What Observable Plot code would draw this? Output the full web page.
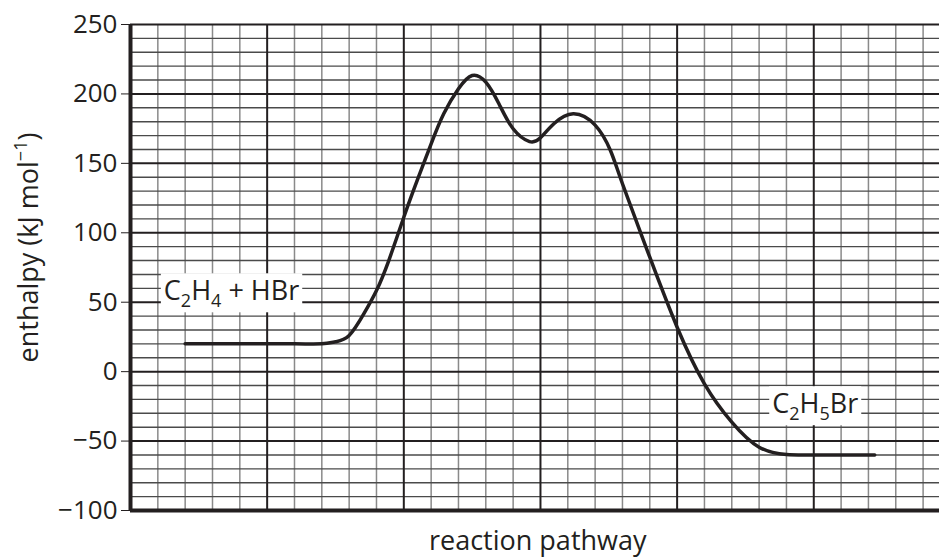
<!DOCTYPE html>
<html><head><meta charset="utf-8">
<script src="https://cdn.jsdelivr.net/npm/d3@7"></script>
<script src="https://cdn.jsdelivr.net/npm/@observablehq/plot@0.6"></script>
<style>
body{margin:0;background:#fff;}
</style></head><body><div id="chart"></div>
<script>
// reaction pathway position (in grid cells) and enthalpy (kJ/mol)
const pathway  = [2.0, 4.0, 6.0, 7.0, 7.5, 8.0, 8.54, 9.0, 9.45, 10.0, 10.49, 11.0, 11.46, 12.0, 12.5, 13.0, 13.48, 14.0, 14.6, 15.0, 15.49, 16.2, 17.0, 17.56, 18.0, 19.0, 20.0, 21.0, 22.0, 23.0, 24.0, 25.0, 27.23];
const enthalpy = [20,  20,  20,  20,  21.5, 26,  41.7, 58.4, 80,  111.2, 137.7, 164.1, 185.7, 203.7, 213.3, 208.5, 192.9, 174.9, 165.7, 168.4, 178.5, 185.7, 177.5, 159.3, 135.3, 82.4, 32, -8.8, -36.4, -54.4, -59.7, -60, -60];
const yTicks = [-100, -50, 0, 50, 100, 150, 200, 250];
const labelText = ["C2H4 + HBr", "C2H5Br"];
const labelX = [1.22, 23.48];
const labelY = [57.6, -23.7];
const xLabel = "reaction pathway";
const yLabel = "enthalpy (kJ mol-1)";

const W = 939, H = 558;
const xMax = 29.6;
const ink = "#231f20";
const minorY = d3.range(-100, 251, 10);
const minorX = d3.range(0, 30, 1);
const curveData = pathway.map((x, i) => ({x, y: enthalpy[i]}));
const labelData = labelText.map((t, i) => ({t, x: labelX[i], y: labelY[i]}));

const chart = Plot.plot({
  width: W, height: H,
  marginLeft: 130, marginRight: 0, marginTop: 24, marginBottom: 48,
  style: {fontFamily: "'Open Sans', sans-serif", fontSize: "26px", color: ink, background: "#fff"},
  x: {domain: [0, xMax], axis: null},
  y: {domain: [-100, 250], axis: null},
  marks: [
    Plot.ruleX(minorX.filter(d => d % 5 !== 0), {stroke: "#8a8a8a", strokeWidth: 1.5}),
    Plot.ruleY(minorY.filter(d => d % 50 !== 0), {stroke: "#4a4a4a", strokeWidth: 1.4}),
    Plot.ruleX(minorX.filter(d => d % 5 === 0 && d > 0), {stroke: ink, strokeWidth: 2}),
    Plot.ruleY(yTicks, {stroke: ink, strokeWidth: 2}),
    Plot.line(curveData, {x: "x", y: "y", curve: d3.curveNatural, stroke: ink, strokeWidth: 3.5}),
    Plot.text(labelData, {x: "x", y: "y", text: "t", textAnchor: "start", lineAnchor: "middle", fill: ink, fontSize: 27}),
    Plot.ruleX([0], {stroke: ink, strokeWidth: 4}),
    Plot.ruleY([-100], {stroke: ink, strokeWidth: 4}),
    Plot.axisY(yTicks, {tickSize: 9, tickPadding: 4, fontSize: 26, label: null, stroke: ink, fill: ink}),
    Plot.text([xLabel], {x: () => 14.9, frameAnchor: "bottom", dy: 31, textAnchor: "middle", lineAnchor: "middle", fontSize: 27, fill: ink}),
    Plot.text([yLabel], {y: () => 89.4, frameAnchor: "left", dx: -101.5, rotate: -90, textAnchor: "middle", lineAnchor: "middle", fontSize: 27, fill: ink})
  ]
});
document.getElementById("chart").appendChild(chart);

const NS = "http://www.w3.org/2000/svg";
function rich(el, parts) {
  while (el.firstChild) el.removeChild(el.firstChild);
  let shift = 0;
  for (const p of parts) {
    const ts = document.createElementNS(NS, "tspan");
    const target = p.sub ? 7 : p.sup ? -11 : 0;
    if (target !== shift) { ts.setAttribute("dy", target - shift); shift = target; }
    if (p.sub || p.sup) ts.setAttribute("font-size", "18px");
    ts.textContent = p.t;
    el.appendChild(ts);
  }
}
function box(el) {
  const b = el.getBBox();
  const r = document.createElementNS(NS, "rect");
  r.setAttribute("x", b.x - 3);
  r.setAttribute("y", b.y + 2);
  r.setAttribute("width", b.width + 6);
  r.setAttribute("height", b.height - 2);
  r.setAttribute("fill", "#fff");
  const tr = el.getAttribute("transform");
  if (tr) r.setAttribute("transform", tr);
  el.parentNode.insertBefore(r, el);
}
d3.select(chart).selectAll("text").each(function() {
  const s = this.textContent;
  if (s === "C2H4 + HBr") {
    rich(this, [{t: "C"}, {t: "2", sub: 1}, {t: "H"}, {t: "4", sub: 1}, {t: " + HBr"}]);
    box(this);
  } else if (s === "C2H5Br") {
    rich(this, [{t: "C"}, {t: "2", sub: 1}, {t: "H"}, {t: "5", sub: 1}, {t: "Br"}]);
    box(this);
  } else if (s === "enthalpy (kJ mol-1)") {
    rich(this, [{t: "enthalpy (kJ mol"}, {t: "\u22121", sup: 1}, {t: ")"}]);
  }
});
</script></body></html>
